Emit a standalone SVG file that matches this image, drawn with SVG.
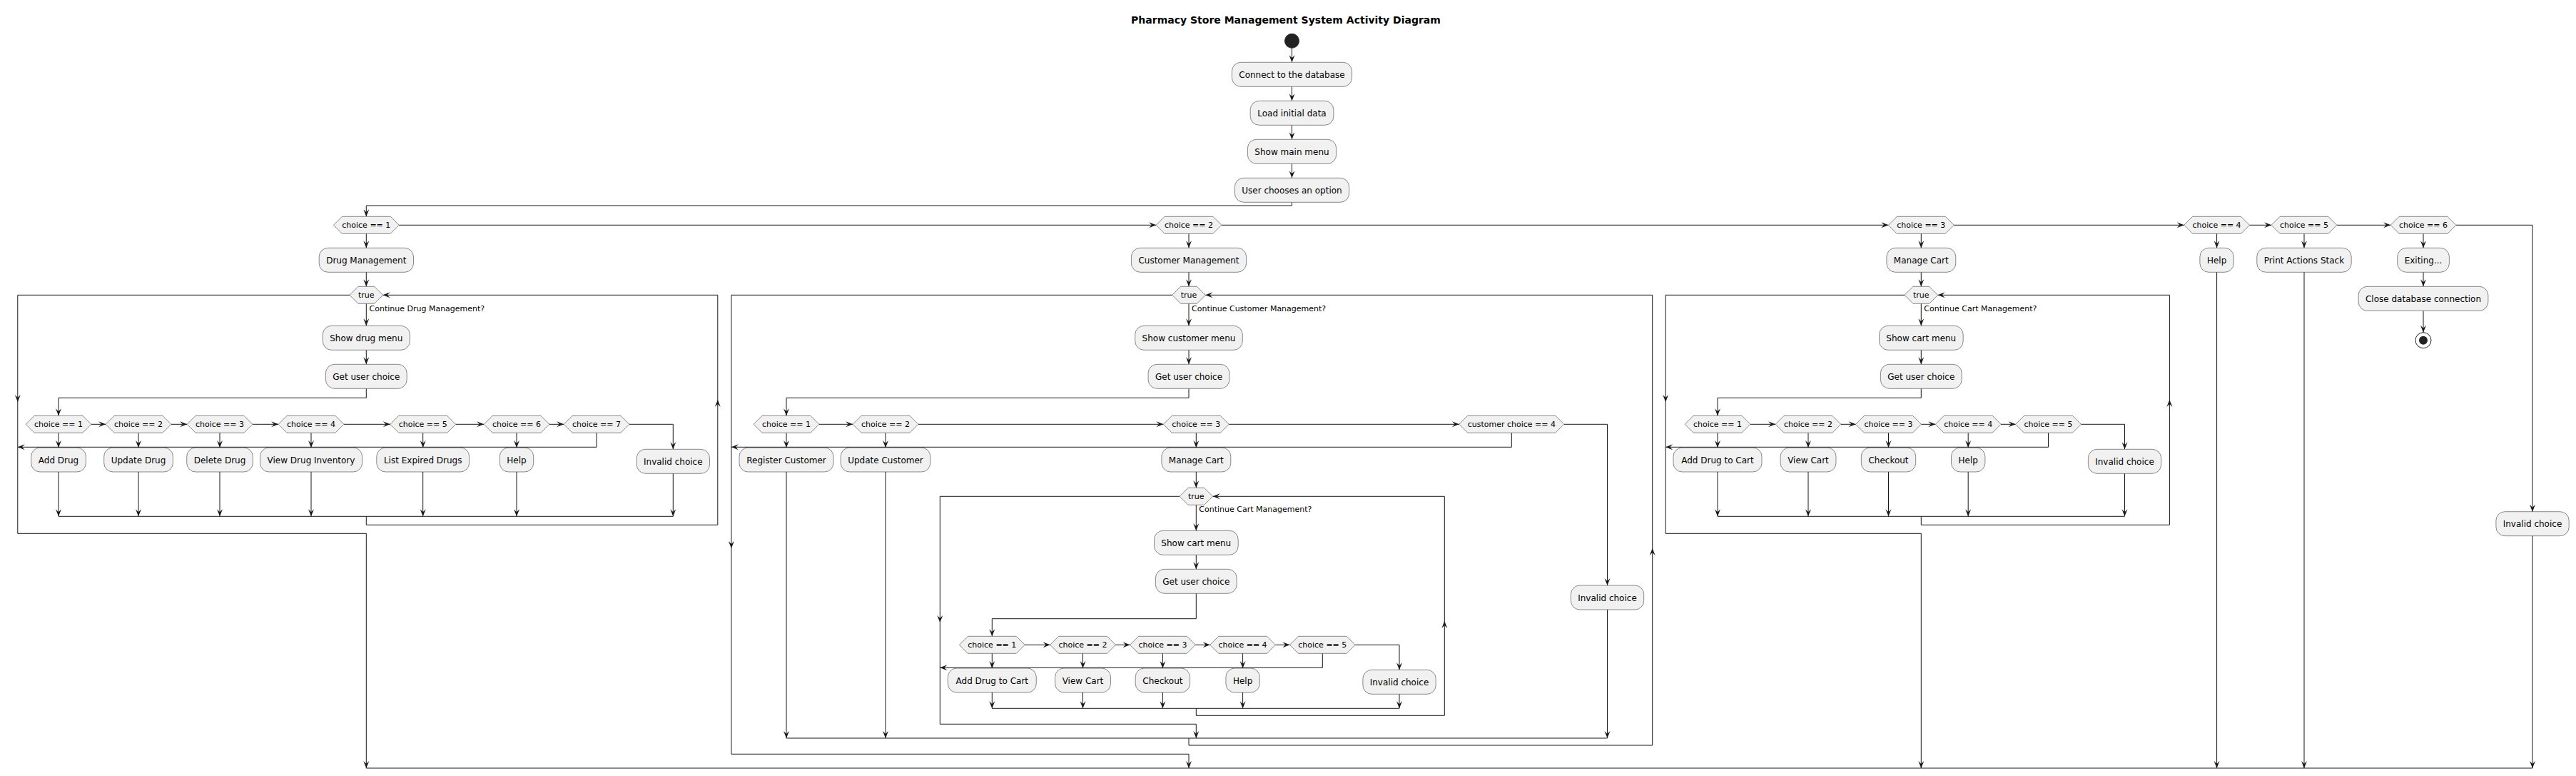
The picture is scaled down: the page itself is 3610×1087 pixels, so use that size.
<svg xmlns="http://www.w3.org/2000/svg" xmlns:xlink="http://www.w3.org/1999/xlink" width="3610" height="1087" viewBox="0 0 3610 1087">
<style>
.b{fill:#F1F1F1;stroke:#181818;stroke-width:0.5}
.t{font-family:"DejaVu Sans","Liberation Sans",sans-serif;font-size:12px;text-anchor:middle;fill:#000}
.s{font-size:11px}
.l{font-family:"DejaVu Sans","Liberation Sans",sans-serif;font-size:11px;fill:#000}
.c path{fill:none;stroke:#181818;stroke-width:1}
.title{font-family:"DejaVu Sans","Liberation Sans",sans-serif;font-size:14px;font-weight:bold;text-anchor:middle;fill:#000}
</style>
<defs>
<path id="ad" d="M-4,-10 L0,0 L4,-10 L0,-6 Z" fill="#181818"/>
<path id="au" d="M-4,10 L0,0 L4,10 L0,6 Z" fill="#181818"/>
<path id="ar" d="M-10,-4 L0,0 L-10,4 L-6,0 Z" fill="#181818"/>
<path id="al" d="M10,-4 L0,0 L10,4 L6,0 Z" fill="#181818"/>
<path id="hx" d="M-45.9,0 L-33.9,-12 L33.9,-12 L45.9,0 L33.9,12 L-33.9,12 Z"/>
<path id="hxt" d="M-23.3,0 L-11.3,-12 L11.3,-12 L23.3,0 L11.3,12 L-11.3,12 Z"/>
<path id="hxc" d="M-73.5,0 L-61.5,-12 L61.5,-12 L73.5,0 L61.5,12 L-61.5,12 Z"/>
</defs>
<rect width="3610" height="1087" fill="#FFFFFF"/>
<text class="title" x="1802" y="33">Pharmacy Store Management System Activity Diagram</text>

<g id="connectors" class="c">
<!-- top -->
<path d="M1810.5,67.3 V87.3"/><use xlink:href="#ad" x="1810.5" y="87.3"/>
<path d="M1810.5,121.3 V141.3"/><use xlink:href="#ad" x="1810.5" y="141.3"/>
<path d="M1810.5,175.3 V195.3"/><use xlink:href="#ad" x="1810.5" y="195.3"/>
<path d="M1810.5,229.3 V249.3"/><use xlink:href="#ad" x="1810.5" y="249.3"/>
<path d="M1810.5,283.3 V288 H513.3 V303.3"/><use xlink:href="#ad" x="513.3" y="303.3"/>
<path d="M559.2,315.3 H1620.1"/><use xlink:href="#ar" x="1620.1" y="315.3"/>
<path d="M1711.9,315.3 H2646.4"/><use xlink:href="#ar" x="2646.4" y="315.3"/>
<path d="M2738.2,315.3 H3060.7"/><use xlink:href="#ar" x="3060.7" y="315.3"/>
<path d="M3152.5,315.3 H3183.1"/><use xlink:href="#ar" x="3183.1" y="315.3"/>
<path d="M3274.9,315.3 H3350.1"/><use xlink:href="#ar" x="3350.1" y="315.3"/>
<path d="M3441.9,315.3 H3549 V716.7"/><use xlink:href="#ad" x="3549" y="716.7"/>
<!-- drug -->
<path d="M513.3,327.3 V347.3"/><use xlink:href="#ad" x="513.3" y="347.3"/>
<path d="M513.3,381.3 V401.3"/><use xlink:href="#ad" x="513.3" y="401.3"/>
<path d="M513.3,425.3 V456.3"/><use xlink:href="#ad" x="513.3" y="456.3"/>
<path d="M513.3,490.3 V510.3"/><use xlink:href="#ad" x="513.3" y="510.3"/>
<path d="M513.3,544.3 V557.3 H82 V582.3"/><use xlink:href="#ad" x="82" y="582.3"/>
<path d="M127.9,594.3 H148.1"/><use xlink:href="#ar" x="148.1" y="594.3"/>
<path d="M239.9,594.3 H262.1"/><use xlink:href="#ar" x="262.1" y="594.3"/>
<path d="M353.9,594.3 H390.1"/><use xlink:href="#ar" x="390.1" y="594.3"/>
<path d="M481.9,594.3 H546.8"/><use xlink:href="#ar" x="546.8" y="594.3"/>
<path d="M638.6,594.3 H678.1"/><use xlink:href="#ar" x="678.1" y="594.3"/>
<path d="M769.9,594.3 H790.1"/><use xlink:href="#ar" x="790.1" y="594.3"/>
<path d="M881.9,594.3 H943.3 V629.3"/><use xlink:href="#ad" x="943.3" y="629.3"/>
<path d="M82,606.3 V627"/><use xlink:href="#ad" x="82" y="627"/>
<path d="M194,606.3 V627"/><use xlink:href="#ad" x="194" y="627"/>
<path d="M308,606.3 V627"/><use xlink:href="#ad" x="308" y="627"/>
<path d="M436,606.3 V627"/><use xlink:href="#ad" x="436" y="627"/>
<path d="M592.7,606.3 V627"/><use xlink:href="#ad" x="592.7" y="627"/>
<path d="M724,606.3 V627"/><use xlink:href="#ad" x="724" y="627"/>
<path d="M836,606.3 V626.3 H24.8"/><use xlink:href="#al" x="24.8" y="626.3"/>
<path d="M82,661 V723.3"/><use xlink:href="#ad" x="82" y="723.3"/>
<path d="M194,661 V723.3"/><use xlink:href="#ad" x="194" y="723.3"/>
<path d="M308,661 V723.3"/><use xlink:href="#ad" x="308" y="723.3"/>
<path d="M436,661 V723.3"/><use xlink:href="#ad" x="436" y="723.3"/>
<path d="M592.7,661 V723.3"/><use xlink:href="#ad" x="592.7" y="723.3"/>
<path d="M724,661 V723.3"/><use xlink:href="#ad" x="724" y="723.3"/>
<path d="M943.3,663.3 V723.3"/><use xlink:href="#ad" x="943.3" y="723.3"/>
<path d="M82,723.3 H943.3"/>
<path d="M513.3,723.3 V735.3 H1005.8 V413.3 H536.6"/><use xlink:href="#al" x="536.6" y="413.3"/><use xlink:href="#au" x="1005.8" y="560"/>
<path d="M490,413.3 H24.8 V747.3 H513.3 V1076"/><use xlink:href="#ad" x="24.8" y="563"/><use xlink:href="#ad" x="513.3" y="1076"/>
<!-- customer -->
<path d="M1666,327.3 V347.3"/><use xlink:href="#ad" x="1666" y="347.3"/>
<path d="M1666,381.3 V401.3"/><use xlink:href="#ad" x="1666" y="401.3"/>
<path d="M1666,425.3 V456.3"/><use xlink:href="#ad" x="1666" y="456.3"/>
<path d="M1666,490.3 V510.3"/><use xlink:href="#ad" x="1666" y="510.3"/>
<path d="M1666,544.3 V557.3 H1102 V582.3"/><use xlink:href="#ad" x="1102" y="582.3"/>
<path d="M1147.9,594.3 H1195.1"/><use xlink:href="#ar" x="1195.1" y="594.3"/>
<path d="M1286.9,594.3 H1630.4"/><use xlink:href="#ar" x="1630.4" y="594.3"/>
<path d="M1722.2,594.3 H2044.8"/><use xlink:href="#ar" x="2044.8" y="594.3"/>
<path d="M2191.8,594.3 H2252.5 V820"/><use xlink:href="#ad" x="2252.5" y="820"/>
<path d="M1102,606.3 V627"/><use xlink:href="#ad" x="1102" y="627"/>
<path d="M1241,606.3 V627"/><use xlink:href="#ad" x="1241" y="627"/>
<path d="M1676.3,606.3 V627"/><use xlink:href="#ad" x="1676.3" y="627"/>
<path d="M2118.3,606.3 V626.3 H1024.9"/><use xlink:href="#al" x="1024.9" y="626.3"/>
<path d="M1102,661 V1034"/><use xlink:href="#ad" x="1102" y="1034"/>
<path d="M1241,661 V1034"/><use xlink:href="#ad" x="1241" y="1034"/>
<path d="M2252.5,854 V1034"/><use xlink:href="#ad" x="2252.5" y="1034"/>
<path d="M1676.3,661 V683.3"/><use xlink:href="#ad" x="1676.3" y="683.3"/>
<path d="M1676.3,707.3 V743.3"/><use xlink:href="#ad" x="1676.3" y="743.3"/>
<path d="M1676.3,777.3 V797.3"/><use xlink:href="#ad" x="1676.3" y="797.3"/>
<path d="M1676.3,831.3 V866.7 H1390.3 V891.3"/><use xlink:href="#ad" x="1390.3" y="891.3"/>
<path d="M1436.2,903.3 H1471.6"/><use xlink:href="#ar" x="1471.6" y="903.3"/>
<path d="M1563.4,903.3 H1583.5"/><use xlink:href="#ar" x="1583.5" y="903.3"/>
<path d="M1675.3,903.3 H1695.7"/><use xlink:href="#ar" x="1695.7" y="903.3"/>
<path d="M1787.5,903.3 H1807.4"/><use xlink:href="#ar" x="1807.4" y="903.3"/>
<path d="M1899.2,903.3 H1961 V938.3"/><use xlink:href="#ad" x="1961" y="938.3"/>
<path d="M1390.3,915.3 V936"/><use xlink:href="#ad" x="1390.3" y="936"/>
<path d="M1517.5,915.3 V936"/><use xlink:href="#ad" x="1517.5" y="936"/>
<path d="M1629.4,915.3 V936"/><use xlink:href="#ad" x="1629.4" y="936"/>
<path d="M1741.6,915.3 V936"/><use xlink:href="#ad" x="1741.6" y="936"/>
<path d="M1853.3,915.3 V935.3 H1317.3"/><use xlink:href="#al" x="1317.3" y="935.3"/>
<path d="M1390.3,970 V992.3"/><use xlink:href="#ad" x="1390.3" y="992.3"/>
<path d="M1517.5,970 V992.3"/><use xlink:href="#ad" x="1517.5" y="992.3"/>
<path d="M1629.4,970 V992.3"/><use xlink:href="#ad" x="1629.4" y="992.3"/>
<path d="M1741.6,970 V992.3"/><use xlink:href="#ad" x="1741.6" y="992.3"/>
<path d="M1961,972.3 V992.3"/><use xlink:href="#ad" x="1961" y="992.3"/>
<path d="M1390.3,992.3 H1961"/>
<path d="M1676.3,992.3 V1002.3 H2024.3 V695.3 H1699.6"/><use xlink:href="#al" x="1699.6" y="695.3"/><use xlink:href="#au" x="2024.3" y="870"/>
<path d="M1653,695.3 H1317.3 V1014.3 H1676.3 V1034"/><use xlink:href="#ad" x="1317.3" y="872"/><use xlink:href="#ad" x="1676.3" y="1034"/>
<path d="M1102,1034 H2252.5"/>
<path d="M1666,1034 V1044 H2315.7 V413.3 H1689.3"/><use xlink:href="#al" x="1689.3" y="413.3"/><use xlink:href="#au" x="2315.7" y="768"/>
<path d="M1642.7,413.3 H1024.9 V1056.3 H1666 V1076"/><use xlink:href="#ad" x="1024.9" y="768"/><use xlink:href="#ad" x="1666" y="1076"/>
<!-- cart -->
<path d="M2692.3,327.3 V347.3"/><use xlink:href="#ad" x="2692.3" y="347.3"/>
<path d="M2692.3,381.3 V401.3"/><use xlink:href="#ad" x="2692.3" y="401.3"/>
<path d="M2692.3,425.3 V456.3"/><use xlink:href="#ad" x="2692.3" y="456.3"/>
<path d="M2692.3,490.3 V510.3"/><use xlink:href="#ad" x="2692.3" y="510.3"/>
<path d="M2692.3,544.3 V557.3 H2407 V582.3"/><use xlink:href="#ad" x="2407" y="582.3"/>
<path d="M2452.9,594.3 H2488.1"/><use xlink:href="#ar" x="2488.1" y="594.3"/>
<path d="M2579.9,594.3 H2600.6"/><use xlink:href="#ar" x="2600.6" y="594.3"/>
<path d="M2692.4,594.3 H2712.3"/><use xlink:href="#ar" x="2712.3" y="594.3"/>
<path d="M2804.1,594.3 H2824.6"/><use xlink:href="#ar" x="2824.6" y="594.3"/>
<path d="M2916.4,594.3 H2977.5 V629.3"/><use xlink:href="#ad" x="2977.5" y="629.3"/>
<path d="M2407,606.3 V627"/><use xlink:href="#ad" x="2407" y="627"/>
<path d="M2534,606.3 V627"/><use xlink:href="#ad" x="2534" y="627"/>
<path d="M2646.5,606.3 V627"/><use xlink:href="#ad" x="2646.5" y="627"/>
<path d="M2758.2,606.3 V627"/><use xlink:href="#ad" x="2758.2" y="627"/>
<path d="M2870.5,606.3 V626.3 H2334.2"/><use xlink:href="#al" x="2334.2" y="626.3"/>
<path d="M2407,661 V723.3"/><use xlink:href="#ad" x="2407" y="723.3"/>
<path d="M2534,661 V723.3"/><use xlink:href="#ad" x="2534" y="723.3"/>
<path d="M2646.5,661 V723.3"/><use xlink:href="#ad" x="2646.5" y="723.3"/>
<path d="M2758.2,661 V723.3"/><use xlink:href="#ad" x="2758.2" y="723.3"/>
<path d="M2977.5,663.3 V723.3"/><use xlink:href="#ad" x="2977.5" y="723.3"/>
<path d="M2407,723.3 H2977.5"/>
<path d="M2692.3,723.3 V735.3 H3040.4 V413.3 H2715.6"/><use xlink:href="#al" x="2715.6" y="413.3"/><use xlink:href="#au" x="3040.4" y="560"/>
<path d="M2669,413.3 H2334.2 V747.3 H2692.3 V1076"/><use xlink:href="#ad" x="2334.2" y="563"/><use xlink:href="#ad" x="2692.3" y="1076"/>
<!-- others -->
<path d="M3106.6,327.3 V347.3"/><use xlink:href="#ad" x="3106.6" y="347.3"/>
<path d="M3106.6,381.3 V1076"/><use xlink:href="#ad" x="3106.6" y="1076"/>
<path d="M3229,327.3 V347.3"/><use xlink:href="#ad" x="3229" y="347.3"/>
<path d="M3229,381.3 V1076"/><use xlink:href="#ad" x="3229" y="1076"/>
<path d="M3396,327.3 V347.3"/><use xlink:href="#ad" x="3396" y="347.3"/>
<path d="M3396,381.3 V401.3"/><use xlink:href="#ad" x="3396" y="401.3"/>
<path d="M3396,435.3 V465.7"/><use xlink:href="#ad" x="3396" y="465.7"/>
<path d="M3549,750.7 V1076"/><use xlink:href="#ad" x="3549" y="1076"/>
<path d="M513.3,1076 H3549"/>
</g>

<g id="labels">
<text class="l" x="517.5" y="435.7">Continue Drug Management?</text>
<text class="l" x="1670" y="435.7">Continue Customer Management?</text>
<text class="l" x="2696.3" y="435.7">Continue Cart Management?</text>
<text class="l" x="1680.3" y="717.3">Continue Cart Management?</text>
</g>

<g id="start"><circle cx="1810.5" cy="57.3" r="10" fill="#222222" stroke="#222222" stroke-width="1"/></g>
<g id="connect"><rect class="b" x="1726.4" y="87.3" width="168.2" height="34" rx="12.5"/><text class="t" x="1810.5" y="108.8">Connect to the database</text></g>
<g id="load"><rect class="b" x="1752.2" y="141.3" width="116.7" height="34" rx="12.5"/><text class="t" x="1810.5" y="162.8">Load initial data</text></g>
<g id="mainmenu"><rect class="b" x="1748.4" y="195.3" width="124.3" height="34" rx="12.5"/><text class="t" x="1810.5" y="216.8">Show main menu</text></g>
<g id="choose"><rect class="b" x="1730.4" y="249.3" width="160.3" height="34" rx="12.5"/><text class="t" x="1810.5" y="270.8">User chooses an option</text></g>

<g id="m1"><use xlink:href="#hx" class="b" x="513.3" y="315.3"/><text class="t s" x="513.3" y="319.3">choice == 1</text></g>
<g id="m2"><use xlink:href="#hx" class="b" x="1666" y="315.3"/><text class="t s" x="1666" y="319.3">choice == 2</text></g>
<g id="m3"><use xlink:href="#hx" class="b" x="2692.3" y="315.3"/><text class="t s" x="2692.3" y="319.3">choice == 3</text></g>
<g id="m4"><use xlink:href="#hx" class="b" x="3106.6" y="315.3"/><text class="t s" x="3106.6" y="319.3">choice == 4</text></g>
<g id="m5"><use xlink:href="#hx" class="b" x="3229" y="315.3"/><text class="t s" x="3229" y="319.3">choice == 5</text></g>
<g id="m6"><use xlink:href="#hx" class="b" x="3396" y="315.3"/><text class="t s" x="3396" y="319.3">choice == 6</text></g>

<!-- drug -->
<g id="drugmgmt"><rect class="b" x="447.2" y="347.3" width="132.3" height="34" rx="12.5"/><text class="t" x="513.3" y="368.8">Drug Management</text></g>
<g id="drugwhile"><use xlink:href="#hxt" class="b" x="513.3" y="413.3"/><text class="t s" x="513.3" y="417.3">true</text></g>
<g id="drugmenu"><rect class="b" x="452.3" y="456.3" width="122.1" height="34" rx="12.5"/><text class="t" x="513.3" y="477.8">Show drug menu</text></g>
<g id="druguc"><rect class="b" x="456.4" y="510.3" width="113.8" height="34" rx="12.5"/><text class="t" x="513.3" y="531.8">Get user choice</text></g>
<g id="dd1"><use xlink:href="#hx" class="b" x="82" y="594.3"/><text class="t s" x="82" y="598.3">choice == 1</text></g>
<g id="dd2"><use xlink:href="#hx" class="b" x="194" y="594.3"/><text class="t s" x="194" y="598.3">choice == 2</text></g>
<g id="dd3"><use xlink:href="#hx" class="b" x="308" y="594.3"/><text class="t s" x="308" y="598.3">choice == 3</text></g>
<g id="dd4"><use xlink:href="#hx" class="b" x="436" y="594.3"/><text class="t s" x="436" y="598.3">choice == 4</text></g>
<g id="dd5"><use xlink:href="#hx" class="b" x="592.7" y="594.3"/><text class="t s" x="592.7" y="598.3">choice == 5</text></g>
<g id="dd6"><use xlink:href="#hx" class="b" x="724" y="594.3"/><text class="t s" x="724" y="598.3">choice == 6</text></g>
<g id="dd7"><use xlink:href="#hx" class="b" x="836" y="594.3"/><text class="t s" x="836" y="598.3">choice == 7</text></g>
<g id="adddrug"><rect class="b" x="43.7" y="627" width="76.7" height="34" rx="12.5"/><text class="t" x="82" y="648.5">Add Drug</text></g>
<g id="updatedrug"><rect class="b" x="145.7" y="627" width="96.7" height="34" rx="12.5"/><text class="t" x="194" y="648.5">Update Drug</text></g>
<g id="deletedrug"><rect class="b" x="261.7" y="627" width="92.6" height="34" rx="12.5"/><text class="t" x="308" y="648.5">Delete Drug</text></g>
<g id="viewinv"><rect class="b" x="364.5" y="627" width="143.1" height="34" rx="12.5"/><text class="t" x="436" y="648.5">View Drug Inventory</text></g>
<g id="expired"><rect class="b" x="527.8" y="627" width="129.8" height="34" rx="12.5"/><text class="t" x="592.7" y="648.5">List Expired Drugs</text></g>
<g id="drughelp"><rect class="b" x="700.3" y="627" width="47.4" height="34" rx="12.5"/><text class="t" x="724" y="648.5">Help</text></g>
<g id="druginvalid"><rect class="b" x="892.2" y="629.3" width="102.3" height="34" rx="12.5"/><text class="t" x="943.3" y="650.8">Invalid choice</text></g>

<!-- customer -->
<g id="custmgmt"><rect class="b" x="1585.4" y="347.3" width="161.2" height="34" rx="12.5"/><text class="t" x="1666" y="368.8">Customer Management</text></g>
<g id="custwhile"><use xlink:href="#hxt" class="b" x="1666" y="413.3"/><text class="t s" x="1666" y="417.3">true</text></g>
<g id="custmenu"><rect class="b" x="1590.7" y="456.3" width="150.6" height="34" rx="12.5"/><text class="t" x="1666" y="477.8">Show customer menu</text></g>
<g id="custuc"><rect class="b" x="1609.1" y="510.3" width="113.8" height="34" rx="12.5"/><text class="t" x="1666" y="531.8">Get user choice</text></g>
<g id="cd1"><use xlink:href="#hx" class="b" x="1102" y="594.3"/><text class="t s" x="1102" y="598.3">choice == 1</text></g>
<g id="cd2"><use xlink:href="#hx" class="b" x="1241" y="594.3"/><text class="t s" x="1241" y="598.3">choice == 2</text></g>
<g id="cd3"><use xlink:href="#hx" class="b" x="1676.3" y="594.3"/><text class="t s" x="1676.3" y="598.3">choice == 3</text></g>
<g id="cd4"><use xlink:href="#hxc" class="b" x="2118.3" y="594.3"/><text class="t s" x="2118.3" y="598.3">customer choice == 4</text></g>
<g id="register"><rect class="b" x="1036" y="627" width="132" height="34" rx="12.5"/><text class="t" x="1102" y="648.5">Register Customer</text></g>
<g id="updatecust"><rect class="b" x="1178.2" y="627" width="125.6" height="34" rx="12.5"/><text class="t" x="1241" y="648.5">Update Customer</text></g>
<g id="custcart"><rect class="b" x="1627.9" y="627" width="96.9" height="34" rx="12.5"/><text class="t" x="1676.3" y="648.5">Manage Cart</text></g>
<g id="custinvalid"><rect class="b" x="2201.4" y="820" width="102.3" height="34" rx="12.5"/><text class="t" x="2252.5" y="841.5">Invalid choice</text></g>
<g id="icwhile"><use xlink:href="#hxt" class="b" x="1676.3" y="695.3"/><text class="t s" x="1676.3" y="699.3">true</text></g>
<g id="icmenu"><rect class="b" x="1617.5" y="743.3" width="117.7" height="34" rx="12.5"/><text class="t" x="1676.3" y="764.8">Show cart menu</text></g>
<g id="icuc"><rect class="b" x="1619.4" y="797.3" width="113.8" height="34" rx="12.5"/><text class="t" x="1676.3" y="818.8">Get user choice</text></g>
<g id="icd1"><use xlink:href="#hx" class="b" x="1390.3" y="903.3"/><text class="t s" x="1390.3" y="907.3">choice == 1</text></g>
<g id="icd2"><use xlink:href="#hx" class="b" x="1517.5" y="903.3"/><text class="t s" x="1517.5" y="907.3">choice == 2</text></g>
<g id="icd3"><use xlink:href="#hx" class="b" x="1629.4" y="903.3"/><text class="t s" x="1629.4" y="907.3">choice == 3</text></g>
<g id="icd4"><use xlink:href="#hx" class="b" x="1741.6" y="903.3"/><text class="t s" x="1741.6" y="907.3">choice == 4</text></g>
<g id="icd5"><use xlink:href="#hx" class="b" x="1853.3" y="903.3"/><text class="t s" x="1853.3" y="907.3">choice == 5</text></g>
<g id="icadd"><rect class="b" x="1328.3" y="936" width="124" height="34" rx="12.5"/><text class="t" x="1390.3" y="957.5">Add Drug to Cart</text></g>
<g id="icview"><rect class="b" x="1478.6" y="936" width="77.9" height="34" rx="12.5"/><text class="t" x="1517.5" y="957.5">View Cart</text></g>
<g id="iccheckout"><rect class="b" x="1591.2" y="936" width="76.4" height="34" rx="12.5"/><text class="t" x="1629.4" y="957.5">Checkout</text></g>
<g id="ichelp"><rect class="b" x="1717.9" y="936" width="47.4" height="34" rx="12.5"/><text class="t" x="1741.6" y="957.5">Help</text></g>
<g id="icinvalid"><rect class="b" x="1909.9" y="938.3" width="102.3" height="34" rx="12.5"/><text class="t" x="1961" y="959.8">Invalid choice</text></g>

<!-- cart -->
<g id="cartmgmt"><rect class="b" x="2643.9" y="347.3" width="96.9" height="34" rx="12.5"/><text class="t" x="2692.3" y="368.8">Manage Cart</text></g>
<g id="cartwhile"><use xlink:href="#hxt" class="b" x="2692.3" y="413.3"/><text class="t s" x="2692.3" y="417.3">true</text></g>
<g id="cartmenu"><rect class="b" x="2633.5" y="456.3" width="117.7" height="34" rx="12.5"/><text class="t" x="2692.3" y="477.8">Show cart menu</text></g>
<g id="cartuc"><rect class="b" x="2635.4" y="510.3" width="113.8" height="34" rx="12.5"/><text class="t" x="2692.3" y="531.8">Get user choice</text></g>
<g id="kd1"><use xlink:href="#hx" class="b" x="2407" y="594.3"/><text class="t s" x="2407" y="598.3">choice == 1</text></g>
<g id="kd2"><use xlink:href="#hx" class="b" x="2534" y="594.3"/><text class="t s" x="2534" y="598.3">choice == 2</text></g>
<g id="kd3"><use xlink:href="#hx" class="b" x="2646.5" y="594.3"/><text class="t s" x="2646.5" y="598.3">choice == 3</text></g>
<g id="kd4"><use xlink:href="#hx" class="b" x="2758.2" y="594.3"/><text class="t s" x="2758.2" y="598.3">choice == 4</text></g>
<g id="kd5"><use xlink:href="#hx" class="b" x="2870.5" y="594.3"/><text class="t s" x="2870.5" y="598.3">choice == 5</text></g>
<g id="cartadd"><rect class="b" x="2345" y="627" width="124" height="34" rx="12.5"/><text class="t" x="2407" y="648.5">Add Drug to Cart</text></g>
<g id="cartview"><rect class="b" x="2495.1" y="627" width="77.9" height="34" rx="12.5"/><text class="t" x="2534" y="648.5">View Cart</text></g>
<g id="cartcheckout"><rect class="b" x="2608.3" y="627" width="76.4" height="34" rx="12.5"/><text class="t" x="2646.5" y="648.5">Checkout</text></g>
<g id="carthelp"><rect class="b" x="2734.5" y="627" width="47.4" height="34" rx="12.5"/><text class="t" x="2758.2" y="648.5">Help</text></g>
<g id="cartinvalid"><rect class="b" x="2926.4" y="629.3" width="102.3" height="34" rx="12.5"/><text class="t" x="2977.5" y="650.8">Invalid choice</text></g>

<!-- others -->
<g id="help"><rect class="b" x="3082.9" y="347.3" width="47.4" height="34" rx="12.5"/><text class="t" x="3106.6" y="368.8">Help</text></g>
<g id="printstack"><rect class="b" x="3162.8" y="347.3" width="132.4" height="34" rx="12.5"/><text class="t" x="3229" y="368.8">Print Actions Stack</text></g>
<g id="exiting"><rect class="b" x="3359.7" y="347.3" width="72.7" height="34" rx="12.5"/><text class="t" x="3396" y="368.8">Exiting...</text></g>
<g id="closedb"><rect class="b" x="3305.1" y="401.3" width="181.8" height="34" rx="12.5"/><text class="t" x="3396" y="422.8">Close database connection</text></g>
<g id="stop"><circle cx="3396" cy="476.7" r="11" fill="none" stroke="#222222" stroke-width="1"/><circle cx="3396" cy="476.7" r="6" fill="#222222"/></g>
<g id="maininvalid"><rect class="b" x="3497.9" y="716.7" width="102.3" height="34" rx="12.5"/><text class="t" x="3549" y="738.2">Invalid choice</text></g>
</svg>
